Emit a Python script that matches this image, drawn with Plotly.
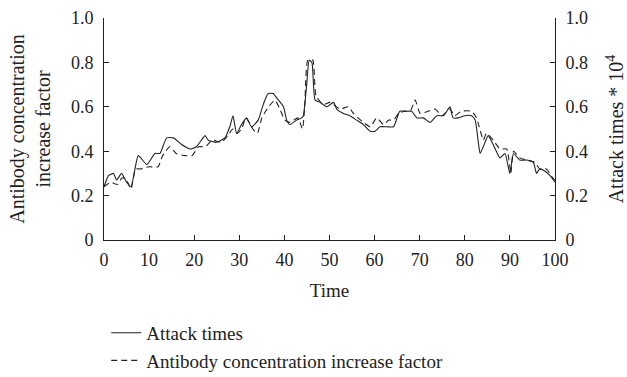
import plotly.graph_objects as go

# Attack times (solid, right axis, * 10^4)
attack_x = [0, 1, 2.1, 2.8, 3.9, 5, 6, 7.6, 9.5, 11.3, 12.4, 13.9, 15.4, 17.2, 19.1, 20.5, 22.4, 23.1, 24.9, 26.8,
            27.9, 28.6, 29.4, 30.5, 31.6, 32.7, 34.2, 35.3, 36.4, 37.5, 38.3, 39.8, 40.5, 41.2, 42.7, 43.8, 44.2,
            44.9, 45.5, 46.1, 46.8, 47.9, 49.4, 50.9, 51.6, 53.1, 54.5, 56.0, 57.5, 59.0, 60.1, 61.2, 62.7, 64.2,
            65.6, 67.1, 68.2, 69.4, 70.8, 72.3, 73.8, 75.3, 76.0, 76.7, 77.4, 78.6, 80.0, 81.5, 82.3, 83.0, 83.4,
            84.1, 85.2, 86.3, 87.8, 88.9, 90.0, 90.8, 92.2, 93.7, 95.2, 95.9, 96.6, 97.8, 98.9, 100]
attack_y = [0.24, 0.29, 0.30, 0.27, 0.30, 0.26, 0.24, 0.38, 0.34, 0.39, 0.39, 0.46, 0.46, 0.43, 0.41, 0.42, 0.47, 0.45,
            0.44, 0.46, 0.51, 0.56, 0.48, 0.52, 0.55, 0.51, 0.54, 0.61, 0.66, 0.66, 0.64, 0.60, 0.54, 0.52, 0.54,
            0.55, 0.56, 0.69, 0.81, 0.80, 0.63, 0.62, 0.60, 0.62, 0.59, 0.57, 0.56, 0.54, 0.52, 0.49, 0.49, 0.51,
            0.51, 0.51, 0.58, 0.58, 0.58, 0.55, 0.55, 0.53, 0.56, 0.56, 0.58, 0.60, 0.55, 0.55, 0.56, 0.56, 0.54,
            0.44, 0.39, 0.42, 0.47, 0.43, 0.37, 0.39, 0.30, 0.39, 0.36, 0.36, 0.35, 0.30, 0.32, 0.31, 0.29, 0.26]

# Antibody concentration increase factor (dashed, left axis)
anti_x = [0, 1.5, 3, 4, 5, 6, 7, 8, 10, 12, 13, 14.6, 16, 18, 19.5, 21, 22.5, 24, 26, 27.5, 28.5, 29.5, 30.5, 31.5,
          33, 34, 35, 36.5, 37.9, 39.0, 40.1, 41.2, 43.0, 44.0, 44.5, 45.2, 46.3, 47.0, 48.6, 50.1, 52.3, 54.2,
          55.3, 57.5, 59.0, 60.5, 62.0, 63.1, 64.2, 65.3, 66.8, 67.9, 69.0, 70.1, 71.9, 73.4, 74.9, 76.7, 77.8,
          79.2, 81.5, 82.6, 83.2, 84.1, 84.8, 86.3, 87.8, 89.3, 90.2, 90.8, 92.2, 93.7, 95.5, 96.6, 98.1, 99.5, 100]
anti_y = [0.24, 0.26, 0.25, 0.28, 0.27, 0.23, 0.32, 0.32, 0.33, 0.33, 0.38, 0.42, 0.39, 0.38, 0.38, 0.42, 0.42, 0.45,
          0.44, 0.47, 0.50, 0.48, 0.50, 0.55, 0.50, 0.48, 0.55, 0.60, 0.63, 0.59, 0.54, 0.53, 0.55, 0.50, 0.60,
          0.81, 0.81, 0.65, 0.61, 0.62, 0.59, 0.60, 0.57, 0.53, 0.51, 0.55, 0.52, 0.54, 0.54, 0.57, 0.58, 0.58,
          0.63, 0.57, 0.58, 0.59, 0.56, 0.59, 0.56, 0.58, 0.58, 0.55, 0.51, 0.45, 0.48, 0.45, 0.41, 0.41, 0.30,
          0.40, 0.37, 0.36, 0.35, 0.32, 0.32, 0.28, 0.27]

x_ticks = [0, 10, 20, 30, 40, 50, 60, 70, 80, 90, 100]
y_ticks = [0, 0.2, 0.4, 0.6, 0.8, 1.0]
y_tick_text = ["0", "0.2", "0.4", "0.6", "0.8", "1.0"]

FONT = "Liberation Serif"
TXT = "#222222"
fig = go.Figure()
fig.add_trace(go.Scatter(x=attack_x, y=attack_y, name="Attack times", mode="lines",
                         line=dict(color="#222222", width=1.1, shape="spline", smoothing=0.5), yaxis="y2"))
fig.add_trace(go.Scatter(x=anti_x, y=anti_y, name="Antibody concentration increase factor", mode="lines",
                         line=dict(color="#222222", width=1.1, dash="6px,4px", shape="spline", smoothing=0.5)))

axis_common = dict(showgrid=False, zeroline=False, showline=True, linecolor="#222222", linewidth=1,
                   ticks="inside", ticklen=5, tickcolor="#222222",
                   tickfont=dict(family=FONT, size=18, color=TXT))
fig.update_layout(
    width=627, height=377,
    margin=dict(l=104, r=72, t=18, b=137, autoexpand=False),
    paper_bgcolor="white", plot_bgcolor="white",
    font=dict(family=FONT, size=19, color=TXT),
    xaxis=dict(range=[0, 100], tickvals=x_ticks, ticklabelstandoff=3,
               title=dict(text="Time", font=dict(family=FONT, size=19, color=TXT), standoff=15),
               **axis_common),
    yaxis=dict(range=[0, 1], tickvals=y_ticks, ticktext=y_tick_text, ticklabelstandoff=6,
               title=dict(text="Antibody concentration<br>increase factor",
                          font=dict(family=FONT, size=20, color=TXT), standoff=14),
               **axis_common),
    yaxis2=dict(range=[0, 1], tickvals=y_ticks, ticktext=y_tick_text, overlaying="y", side="right",
                ticklabelstandoff=6,
                title=dict(text="Attack times * 10<sup>4</sup>", font=dict(family=FONT, size=20, color=TXT),
                           standoff=26),
                **axis_common),
    showlegend=True,
    legend=dict(x=0.005, y=-0.63, xanchor="left", yanchor="bottom", font=dict(family=FONT, size=19, color=TXT),
                bgcolor="rgba(0,0,0,0)", tracegroupgap=0, itemwidth=30),
)
fig.write_html("out.html")
